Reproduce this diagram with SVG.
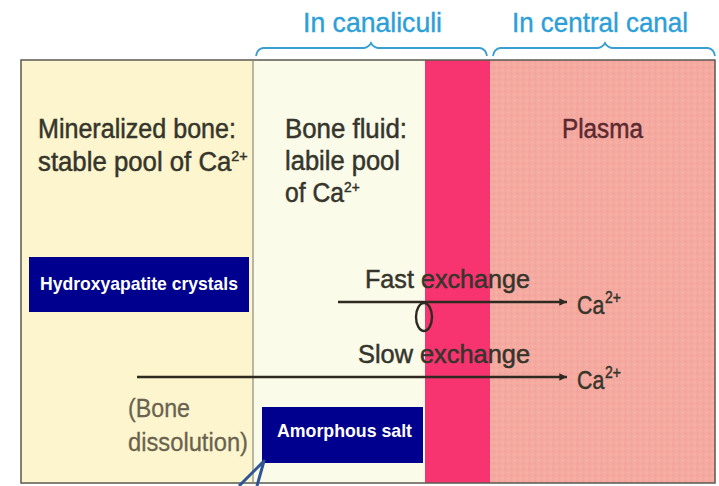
<svg xmlns="http://www.w3.org/2000/svg" width="719" height="486" viewBox="0 0 719 486">
<style>
.t{font-family:"Liberation Sans",Arial,sans-serif;fill:#35352c;stroke:#35352c;stroke-width:0.5}
.hd{font-family:"Liberation Sans",Arial,sans-serif;fill:#2c9fd8;stroke:#2c9fd8;stroke-width:0.4;font-size:28px}
.sup{font-size:17px}
.sm{font-size:15px}
.bx{fill:#00008e}
.bt{font-family:"Liberation Sans",Arial,sans-serif;fill:#ffffff;font-weight:bold;font-size:19px}
.br{fill:none;stroke:#3a9ed2;stroke-width:1.8}
.ln{stroke:#2e2a22;stroke-width:2.4;fill:none}
</style>
<defs>
<pattern id="dots" width="6" height="6" patternUnits="userSpaceOnUse">
<circle cx="1.5" cy="1.5" r="1" fill="#e8909a" opacity="0.5"/>
<circle cx="4.5" cy="4.5" r="1" fill="#fbc0b4" opacity="0.5"/>
</pattern>
<marker id="ah" viewBox="0 0 10 10" refX="10" refY="5" markerWidth="5" markerHeight="3.2" orient="auto" markerUnits="strokeWidth">
<path d="M0,0 L10,5 L0,10 z" fill="#2e2a22"/>
</marker>
</defs>
<rect width="719" height="486" fill="#ffffff"/>

<g id="headers">
<text class="hd" x="303" y="32" textLength="139" lengthAdjust="spacingAndGlyphs">In canaliculi</text>
<path class="br" d="M256,56 Q257,49 263,48 L364,48 Q369,47 371,43 Q373,47 378,48 L480,48 Q486,49 487,56"/>
<text class="hd" x="512" y="32" textLength="176" lengthAdjust="spacingAndGlyphs">In central canal</text>
<path class="br" d="M493,56 Q494,49 500,48 L598,48 Q603,47 605,43 Q607,47 612,48 L708,48 Q714,49 715,56"/>
</g>

<g id="mineralized-bone">
<rect x="21" y="60" width="232" height="423" fill="#fdf5cd"/>
<text class="t" x="38" y="138" font-size="27" textLength="198" lengthAdjust="spacingAndGlyphs">Mineralized bone:</text>
<text class="t" transform="translate(38,171) scale(0.955,1)" font-size="27">stable pool of Ca<tspan class="sm" dy="-10">2+</tspan></text>
</g>

<g id="bone-fluid">
<rect x="253" y="60" width="172" height="423" fill="#fbfbea"/>
<text class="t" x="285" y="138" font-size="27" textLength="122" lengthAdjust="spacingAndGlyphs">Bone fluid:</text>
<text class="t" x="285" y="170" font-size="27" textLength="115" lengthAdjust="spacingAndGlyphs">labile pool</text>
<text class="t" transform="translate(285,202) scale(0.915,1)" font-size="27">of Ca<tspan class="sm" dy="-10">2+</tspan></text>
</g>

<g id="canaliculus-wall">
<rect x="425" y="60" width="65" height="423" fill="#f7346f"/>
</g>

<g id="plasma">
<rect x="490" y="60" width="225" height="423" fill="#f5aa9f"/>
<rect x="490" y="60" width="225" height="423" fill="url(#dots)"/>
<text class="t" x="562" y="138" font-size="27" style="fill:#5a2a30;stroke:#5a2a30" textLength="81" lengthAdjust="spacingAndGlyphs">Plasma</text>
</g>

<g id="frame">
<rect x="21" y="60" width="694" height="423" fill="none" stroke="#5a5a50" stroke-width="1.5"/>
<line x1="253" y1="60" x2="253" y2="483" stroke="#8a8a7a" stroke-width="1.2"/>
</g>

<g id="hydroxyapatite">
<rect class="bx" x="29" y="257" width="220" height="55"/>
<text class="bt" x="40" y="290" textLength="198" lengthAdjust="spacingAndGlyphs">Hydroxyapatite crystals</text>
</g>

<g id="amorphous-salt">
<rect class="bx" x="262" y="407" width="161" height="56"/>
<text class="bt" x="277" y="437" textLength="135" lengthAdjust="spacingAndGlyphs">Amorphous salt</text>
</g>

<g id="connectors">
<line class="ln" x1="338" y1="302" x2="567" y2="302" marker-end="url(#ah)"/>
<ellipse class="ln" cx="424" cy="317" rx="8" ry="14" stroke-width="2"/>
<line class="ln" x1="137" y1="377" x2="567" y2="377" marker-end="url(#ah)"/>
<path d="M239,486 L264,461 L257,486" fill="none" stroke="#2f5597" stroke-width="3" stroke-linejoin="round"/>
</g>

<g id="labels">
<text class="t" x="365" y="288" font-size="26" textLength="165" lengthAdjust="spacingAndGlyphs">Fast exchange</text>
<text class="t" transform="translate(577,314) scale(0.82,1)" font-size="26">Ca<tspan class="sup" dx="1" dy="-11">2+</tspan></text>
<text class="t" x="358" y="363" font-size="26" textLength="172" lengthAdjust="spacingAndGlyphs">Slow exchange</text>
<text class="t" transform="translate(577,389) scale(0.82,1)" font-size="26">Ca<tspan class="sup" dx="1" dy="-11">2+</tspan></text>
<text class="t" x="128" y="417" font-size="26" style="fill:#6a6250;stroke:#6a6250;stroke-width:0.3" textLength="62" lengthAdjust="spacingAndGlyphs">(Bone</text>
<text class="t" x="128" y="451" font-size="26" style="fill:#6a6250;stroke:#6a6250;stroke-width:0.3" textLength="120" lengthAdjust="spacingAndGlyphs">dissolution)</text>
</g>
</svg>
